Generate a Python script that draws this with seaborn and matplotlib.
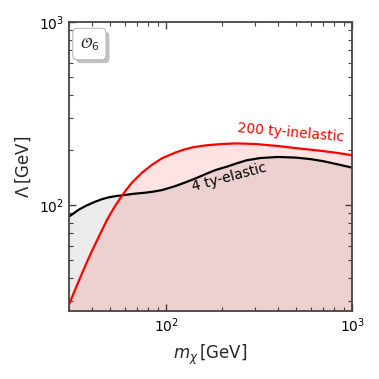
import numpy as np
import pandas as pd
import seaborn as sns
import matplotlib.pyplot as plt
import matplotlib.patheffects as pe

# values (GeV)
inel_mass = [30, 32, 34, 37, 40, 44, 48, 53, 59, 65, 74, 84, 95, 110, 125, 140, 165, 200,
             240, 300, 400, 500, 600, 700, 850, 1000]
inel_lambda = [28.6, 33.5, 38.8, 47.4, 56.5, 69, 82.8, 98.4, 115.8, 131.5, 150, 166, 180, 192,
               201, 207, 212, 215.5, 217, 215.5, 210, 204.5, 200.5, 197, 192, 187]

el_mass = [30, 32, 34, 37, 41.5, 45, 49, 54, 59, 66, 77, 86, 95, 104, 112, 120, 130, 140, 152, 165,
           185, 212, 240, 271, 320, 400, 500, 600, 700, 800, 900, 1000]
el_lambda = [86.4, 90.5, 94.5, 99, 104.2, 107.5, 110.1, 112, 113.2, 115, 116.7, 118.5, 120.7, 124,
             126.9, 130.2, 134.2, 138.2, 143.1, 148.4, 155.5, 162, 169, 175.5, 180.5, 183, 181.5,
             178, 173.5, 168.5, 164, 160]

x_lim = (30, 1000)
y_lim = (26.3, 1000)


def style_axes(ax):
    ax.set_xscale('log')
    ax.set_yscale('log')
    ax.set_xlim(*x_lim)
    ax.set_ylim(*y_lim)
    for s in ax.spines.values():
        s.set_color('#444444')
        s.set_linewidth(1.3)
    ax.tick_params(which='both', direction='in', top=True, right=True, colors='#444444',
                   labelcolor='black', labelsize=10)
    ax.tick_params(which='major', length=5, width=1)
    ax.tick_params(which='minor', length=3, width=0.8)
    ax.set_xlabel(r'$m_\chi\,$[GeV]', fontsize=12, labelpad=6)
    ax.set_ylabel(r'$\Lambda\,$[GeV]', fontsize=12, labelpad=4)


def main():
    sns.set_style('ticks')
    fig = plt.figure(figsize=(3.79, 3.79), dpi=100)
    ax = fig.add_axes([0.182, 0.179, 0.747, 0.763])

    inel = pd.DataFrame({'m': inel_mass, 'L': inel_lambda})
    el = pd.DataFrame({'m': el_mass, 'L': el_lambda})

    ax.fill_between(el['m'], y_lim[0], el['L'], color='black', alpha=0.08, lw=0)
    ax.fill_between(inel['m'], y_lim[0], inel['L'], color='red', alpha=0.11, lw=0)

    sns.lineplot(data=el, x='m', y='L', color='black', lw=1.6, ax=ax)
    sns.lineplot(data=inel, x='m', y='L', color='red', lw=1.6, ax=ax)

    style_axes(ax)

    ax.text(470, 247, '200 ty-inelastic', color='red', fontsize=10,
            rotation=-5, ha='center', va='center')
    ax.text(218, 142, '4 ty-elastic', color='black', fontsize=10,
            rotation=15, ha='center', va='center')

    t = ax.text(0.072, 0.924, r'$\mathcal{O}_6$', transform=ax.transAxes, fontsize=11,
                ha='center', va='center',
                bbox=dict(boxstyle='round,pad=0.45,rounding_size=0.3', fc='white', ec='#bbbbbb', lw=0.8))
    t.get_bbox_patch().set_path_effects([
        pe.SimplePatchShadow(offset=(2.5, -2.5), shadow_rgbFace='#999999', alpha=0.6),
        pe.Normal()])

    fig.savefig('out.png', dpi=100)


if __name__ == '__main__':
    main()
